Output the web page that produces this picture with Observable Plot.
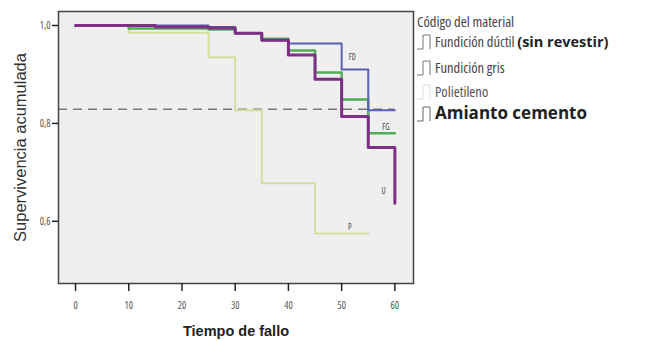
<!DOCTYPE html>
<html><head><meta charset="utf-8">
<script src="https://cdn.jsdelivr.net/npm/d3@7"></script>
<script src="https://cdn.jsdelivr.net/npm/@observablehq/plot@0.6"></script>
<style>
body{margin:0;background:#fff;width:655px;height:341px;overflow:hidden;position:relative;font-family:"Open Sans",sans-serif;font-stretch:80%;}
#chart{position:absolute;left:0;top:0;}
.lg{position:absolute;left:417px;color:#444;white-space:nowrap;font-size:14.5px;line-height:17px;}
.lg svg{position:absolute;left:0;top:0;}
.lg span.t{position:absolute;left:18px;top:0;}
.bold{font-family:"Open Sans","DejaVu Sans",sans-serif;font-stretch:100%;font-weight:bold;color:#222;}
</style></head><body>
<div id="chart"></div>
<div id="legend"></div>
<script>
// Data
const xTicks = [0, 10, 20, 30, 40, 50, 60];
const yTicks = [0.6, 0.8, 1.0];
const refLine = 0.829;

const fdTime = [0, 25, 30, 35, 40, 50, 55, 60];
const fdSurv = [1.0, 0.997, 0.984, 0.97, 0.963, 0.91, 0.827, 0.827];

const fgTime = [0, 10, 25, 30, 35, 40, 45, 50, 55, 60];
const fgSurv = [1.0, 0.994, 0.992, 0.984, 0.973, 0.949, 0.904, 0.849, 0.78, 0.78];

const peTime = [0, 10, 25, 30, 35, 45, 55];
const peSurv = [1.0, 0.985, 0.935, 0.827, 0.678, 0.575, 0.575];

const acTime = [0, 15, 25, 30, 35, 40, 45, 50, 55, 60, 60];
const acSurv = [1.0, 0.997, 0.995, 0.984, 0.97, 0.94, 0.89, 0.814, 0.751, 0.751, 0.637];

const curveLabels = ["FD", "FG", "U", "P"];
const curveLabelT = [52, 58.3, 57.9, 51.5];
const curveLabelS = [0.934, 0.792, 0.661, 0.588];

const seriesNames = ["Fundición dúctil", "Fundición gris", "Polietileno", "Amianto cemento"];
const legendTitle = "Código del material";
const xLabel = "Tiempo de fallo";
const yLabel = "Supervivencia acumulada";

const toRows = (ts, ss) => ts.map((t, i) => ({t, s: ss[i]}));
const fd = toRows(fdTime, fdSurv), fg = toRows(fgTime, fgSurv), pe = toRows(peTime, peSurv), ac = toRows(acTime, acSurv);
const labels = curveLabels.map((n, i) => ({n, t: curveLabelT[i], s: curveLabelS[i]}));

const fmt = d => d.toFixed(1).replace(".", ",");
const xDom = [-3.2, 63.5];

const chart = Plot.plot({
  width: 655, height: 341,
  marginLeft: 58, marginRight: 242, marginTop: 11, marginBottom: 58,
  style: {background: "transparent", fontFamily: '"Open Sans",sans-serif', fontStretch: "80%", fontSize: "10px", color: "#444"},
  x: {domain: xDom},
  y: {domain: [0.473, 1.0286]},
  marks: [
    Plot.frame({fill: "#efefef", stroke: null}),
    Plot.ruleY([refLine], {x1: xDom[0], x2: 60, stroke: "#777", strokeWidth: 1.5, strokeDasharray: "9,6"}),
    Plot.line(pe, {x: "t", y: "s", curve: "step-after", stroke: "#d6dd9c", strokeWidth: 2}),
    Plot.line(fg, {x: "t", y: "s", curve: "step-after", stroke: "#4fae55", strokeWidth: 2.5}),
    Plot.line(fd, {x: "t", y: "s", curve: "step-after", stroke: "#5b5fb5", strokeWidth: 2}),
    Plot.line(ac, {x: "t", y: "s", curve: "step-after", stroke: "#7d2f86", strokeWidth: 3}),
    Plot.text(labels, {x: "t", y: "s", text: "n", fontSize: 8, fill: "#444"}),
    Plot.frame({stroke: "#444", strokeWidth: 1.5}),
    Plot.axisX(xTicks, {tickSize: 8, tickPadding: 10, stroke: "#222", strokeWidth: 1.5, fill: "#555", label: null}),
    Plot.axisY(yTicks, {tickSize: 6, tickPadding: 2, tickFormat: fmt, stroke: "#222", strokeWidth: 1.5, fill: "#555", label: null}),
    Plot.text([xLabel], {frameAnchor: "bottom", dy: 48, text: d => d, fontSize: 14.5, fontWeight: "bold", fill: "#222", fontFamily: '"Liberation Sans",sans-serif', lineAnchor: "middle"}),
    Plot.text([yLabel], {frameAnchor: "left", dx: -38, rotate: -90, textAnchor: "middle", text: d => d, fontSize: 16.5, fill: "#333", fontFamily: '"Liberation Sans",sans-serif'})
  ]
});
document.getElementById("chart").appendChild(chart);

// Legend
const lg = document.getElementById("legend");
const icon = (c) => `<svg width="16" height="18" viewBox="0 0 16 18"><path d="M0,16H6V2H13V16" fill="none" stroke="${c}" stroke-width="1"/></svg>`;
const rows = [
  {top: 13, html: `<span style="color:#444">${legendTitle}</span>`},
  {top: 33, html: icon("#777") + `<span class="t">${seriesNames[0]} <span class="bold" style="font-size:14.5px">(sin revestir)</span></span>`},
  {top: 59, html: icon("#777") + `<span class="t">${seriesNames[1]}</span>`},
  {top: 83, html: icon("#ddd") + `<span class="t" style="color:#555">${seriesNames[2]}</span>`},
  {top: 105, html: icon("#666") + `<span class="t bold" style="font-size:17px;top:-1px">${seriesNames[3]}</span>`}
];
rows.forEach(r => { const d = document.createElement("div"); d.className = "lg"; d.style.top = r.top + "px"; d.style.height = "18px"; d.innerHTML = r.html; lg.appendChild(d); });
</script>
</body></html>
